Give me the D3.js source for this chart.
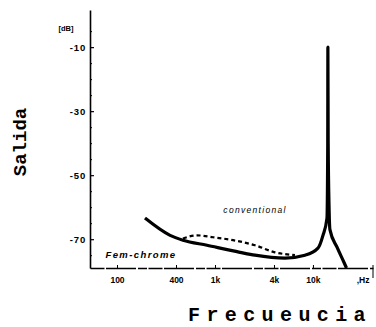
<!DOCTYPE html>
<html>
<head>
<meta charset="utf-8">
<script src="https://cdn.jsdelivr.net/npm/d3@7"></script>
<style>
  body { margin: 0; background: #fff; }
  svg { display: block; }
  .tick text { font-family: "Liberation Sans", Arial, sans-serif; font-weight: bold; font-size: 8.5px; fill: #000; }
  .ytick .tick text { font-size: 9.5px; letter-spacing: 0.8px; }
  .axis path, .axis line { stroke: #000; }
</style>
</head>
<body>
<svg id="chart" width="376" height="327"></svg>
<script>
// Fem-chrome (solid) curve incl. resonance spike, Hz / dB
const femFreq = [193, 348, 471, 828, 1800, 2560, 5180, 8280, 11250, 12650, 13900, 14150, 14200, 14300, 14600, 14900, 17600, 20700, 22000];
const femDb   = [-63.4, -68.8, -70.3, -71.9, -74.1, -75, -75.9, -75, -72.8, -68.8, -63.4, -40, -10, -40, -60, -67, -72.5, -77.2, -79];

// conventional (dashed) curve
const convFreq = [471, 655, 955, 1530, 2560, 4090, 6550];
const convDb   = [-69.8, -68.8, -69.4, -70.3, -71.9, -74.1, -75];

const yTicks = [-10, -30, -50, -70];
const yMinor = [-5, -15, -20, -25, -35, -40, -45, -55, -60, -65, -75];
const xTicks = [100, 400, 1000, 4000, 10000];
const xTickLabels = ["100", "400", "1k", "4k", "10k"];

const svg = d3.select("#chart");

const x = d3.scaleLog().domain([53, 41000]).range([90, 373]);
const y = d3.scaleLinear().domain([-79, 1.6]).range([268, 10]);

// axes
const yAxis = svg.append("g")
  .attr("class", "axis ytick")
  .attr("transform", "translate(90,0)")
  .call(d3.axisLeft(y).tickValues(yTicks).tickSize(-4).tickSizeOuter(0).tickPadding(4).tickFormat(d => d));
yAxis.select(".domain").attr("stroke-width", 1.6);
yAxis.selectAll(".tick line").attr("stroke-width", 1.2);

svg.append("g")
  .attr("class", "axis")
  .attr("transform", "translate(90,0)")
  .call(d3.axisLeft(y).tickValues(yMinor).tickSize(-2).tickSizeOuter(0).tickFormat(""))
  .select(".domain").remove();

const xAxis = svg.append("g")
  .attr("class", "axis")
  .attr("transform", "translate(0,268)")
  .call(d3.axisBottom(x).tickValues(xTicks).tickSize(-3).tickSizeOuter(0).tickPadding(9)
    .tickFormat((d, i) => xTickLabels[i]));
xAxis.select(".domain").attr("stroke-width", 1.4).attr("stroke-dasharray", "14,1.5,30,2,9,1.5");

// right end marker of frequency axis
svg.append("line")
  .attr("x1", x.range()[1]).attr("x2", x.range()[1])
  .attr("y1", y(-79) - 3).attr("y2", y(-79) + 10)
  .attr("stroke", "#000").attr("stroke-width", 1);

svg.append("text")
  .attr("x", 363).attr("y", 283)
  .attr("text-anchor", "middle")
  .attr("font-family", "Liberation Sans, Arial, sans-serif")
  .attr("font-weight", "bold").attr("font-size", 8.5)
  .text(",Hz");

svg.append("text")
  .attr("x", 66).attr("y", 31)
  .attr("text-anchor", "middle")
  .attr("font-family", "Liberation Sans, Arial, sans-serif")
  .attr("font-weight", "bold").attr("font-size", 7.5)
  .text("[dB]");

// curves
const line = d3.line()
  .x(d => x(d[0]))
  .y(d => y(d[1]))
  .curve(d3.curveMonotoneX);

svg.append("path")
  .datum(convFreq.map((f, i) => [f, convDb[i]]))
  .attr("fill", "none")
  .attr("stroke", "#000")
  .attr("stroke-width", 2.2)
  .attr("stroke-dasharray", "4,3")
  .attr("d", line);

svg.append("path")
  .datum(femFreq.map((f, i) => [f, femDb[i]]))
  .attr("fill", "none")
  .attr("stroke", "#000")
  .attr("stroke-width", 3.2)
  .attr("stroke-linejoin", "round")
  .attr("d", line);

// curve labels
svg.append("text")
  .attr("x", 255).attr("y", 213)
  .attr("text-anchor", "middle")
  .attr("font-family", "Liberation Sans, Arial, sans-serif")
  .attr("font-style", "italic").attr("font-size", 8.5)
  .attr("letter-spacing", 1.3)
  .text("conventional");

svg.append("text")
  .attr("x", 141).attr("y", 258)
  .attr("text-anchor", "middle")
  .attr("font-family", "Liberation Sans, Arial, sans-serif")
  .attr("font-style", "italic").attr("font-weight", "bold").attr("font-size", 9.5)
  .attr("letter-spacing", 1.4)
  .text("Fem-chrome");

// axis titles
svg.append("text")
  .attr("transform", "translate(26,142) rotate(-90)")
  .attr("text-anchor", "middle")
  .attr("font-family", "Liberation Mono, Courier New, monospace")
  .attr("font-weight", "bold").attr("font-size", 19)
  .text("Salida");

svg.append("text")
  .attr("x", 280).attr("y", 321)
  .attr("text-anchor", "middle")
  .attr("font-family", "Liberation Mono, Courier New, monospace")
  .attr("font-weight", "bold").attr("font-size", 20)
  .attr("letter-spacing", 6.4)
  .text("Frecueucia");
</script>
</body>
</html>
